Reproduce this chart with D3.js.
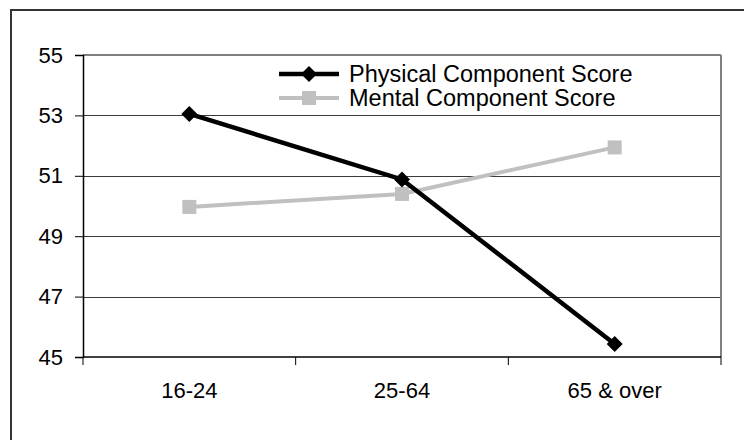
<!DOCTYPE html>
<html>
<head>
<meta charset="utf-8">
<script src="https://cdn.jsdelivr.net/npm/d3@7"></script>
<style>
  html, body { margin: 0; padding: 0; background: #fff; }
  svg { display: block; }
  text { font-family: "Liberation Sans", Arial, sans-serif; fill: #000; }
</style>
</head>
<body>
<svg id="chart" width="744" height="440"></svg>
<script>
// Age groups on the x axis
const categories = ["16-24", "25-64", "65 & over"];
// Mean SF-36 summary scores per age group
const physicalScores = [53.05, 50.88, 45.43];
const mentalScores = [49.97, 50.40, 51.94];
const yTicks = [45, 47, 49, 51, 53, 55];
const seriesNames = ["Physical Component Score", "Mental Component Score"];

const svg = d3.select("#chart");
const plot = { left: 83, right: 721, top: 55, bottom: 357 };

// outer frame (runs off the right and bottom edges)
svg.append("rect")
  .attr("x", 11).attr("y", 10)
  .attr("width", 800).attr("height", 500)
  .attr("fill", "#fff").attr("stroke", "#333").attr("stroke-width", 2);

const x = d3.scaleBand().domain(categories).range([plot.left, plot.right]);
const y = d3.scaleLinear().domain([45, 55]).range([plot.bottom, plot.top]);

// horizontal gridlines
svg.append("g")
  .selectAll("line")
  .data(yTicks.filter(t => t !== 45 && t !== 55))
  .join("line")
  .attr("x1", plot.left).attr("x2", plot.right)
  .attr("y1", d => Math.round(y(d)) + 0.5).attr("y2", d => Math.round(y(d)) + 0.5)
  .attr("stroke", "#3a3a3a").attr("stroke-width", 1);

// top and right plot edges
svg.append("line")
  .attr("x1", plot.left).attr("x2", plot.right)
  .attr("y1", plot.top).attr("y2", plot.top)
  .attr("stroke", "#808080").attr("stroke-width", 2);
svg.append("line")
  .attr("x1", plot.right).attr("x2", plot.right)
  .attr("y1", plot.top).attr("y2", plot.bottom)
  .attr("stroke", "#808080").attr("stroke-width", 2);

// y axis
const yAxis = svg.append("g")
  .attr("transform", `translate(${plot.left},0)`)
  .call(d3.axisLeft(y).tickValues(yTicks).tickSize(8).tickPadding(12).tickFormat(d3.format("d")));
yAxis.select(".domain").attr("stroke", "#000").attr("stroke-width", 1.5);
yAxis.selectAll(".tick line").attr("stroke", "#000");
yAxis.selectAll("text")
  .style("font-family", '"Liberation Sans", Arial, sans-serif')
  .style("font-size", "22px").attr("fill", "#000");

// x axis: ticks at band boundaries, labels centred in each band
const xAxis = svg.append("g")
  .attr("transform", `translate(0,${plot.bottom})`);
xAxis.append("line")
  .attr("x1", plot.left).attr("x2", plot.right)
  .attr("y1", 0).attr("y2", 0)
  .attr("stroke", "#000").attr("stroke-width", 1.5);
const boundaries = categories.map(c => x(c)).concat([x(categories[categories.length - 1]) + x.bandwidth()]);
xAxis.selectAll("line.tk")
  .data(boundaries)
  .join("line").attr("class", "tk")
  .attr("x1", d => d).attr("x2", d => d)
  .attr("y1", 0).attr("y2", 8)
  .attr("stroke", "#000").attr("stroke-width", 1);
xAxis.selectAll("text.lbl")
  .data(categories)
  .join("text").attr("class", "lbl")
  .attr("x", d => x(d) + x.bandwidth() / 2)
  .attr("y", 41)
  .attr("text-anchor", "middle")
  .style("font-size", "22px")
  .text(d => d);

const cx = d => x(d) + x.bandwidth() / 2;
const line = d3.line().x(d => cx(d.c)).y(d => y(d.v));

const mental = categories.map((c, i) => ({ c, v: mentalScores[i] }));
const physical = categories.map((c, i) => ({ c, v: physicalScores[i] }));

const diamond = (s) => `M0,${-s}L${s},0L0,${s}L${-s},0Z`;

// Mental Component Score (grey, square markers)
svg.append("path").datum(mental)
  .attr("d", line).attr("fill", "none")
  .attr("stroke", "#c0c0c0").attr("stroke-width", 4);
svg.append("g").selectAll("rect")
  .data(mental).join("rect")
  .attr("x", d => cx(d.c) - 7).attr("y", d => y(d.v) - 7)
  .attr("width", 14).attr("height", 14)
  .attr("fill", "#c0c0c0");

// Physical Component Score (black, diamond markers)
svg.append("path").datum(physical)
  .attr("d", line).attr("fill", "none")
  .attr("stroke", "#000").attr("stroke-width", 4.5);
svg.append("g").selectAll("path")
  .data(physical).join("path")
  .attr("transform", d => `translate(${cx(d.c)},${y(d.v)})`)
  .attr("d", diamond(8))
  .attr("fill", "#000");

// legend
const legend = svg.append("g");
const legendItems = [
  { name: seriesNames[0], color: "#000", width: 4.5, marker: "diamond", y: 74 },
  { name: seriesNames[1], color: "#c0c0c0", width: 4, marker: "square", y: 98 }
];
legendItems.forEach(it => {
  legend.append("line")
    .attr("x1", 279).attr("x2", 339)
    .attr("y1", it.y).attr("y2", it.y)
    .attr("stroke", it.color).attr("stroke-width", it.width);
  if (it.marker === "diamond") {
    legend.append("path")
      .attr("transform", `translate(309,${it.y})`)
      .attr("d", diamond(8)).attr("fill", it.color);
  } else {
    legend.append("rect")
      .attr("x", 302).attr("y", it.y - 7)
      .attr("width", 14).attr("height", 14)
      .attr("fill", it.color);
  }
  legend.append("text")
    .attr("x", 349).attr("y", it.y + 8)
    .style("font-size", "23.5px")
    .text(it.name);
});
</script>
</body>
</html>
